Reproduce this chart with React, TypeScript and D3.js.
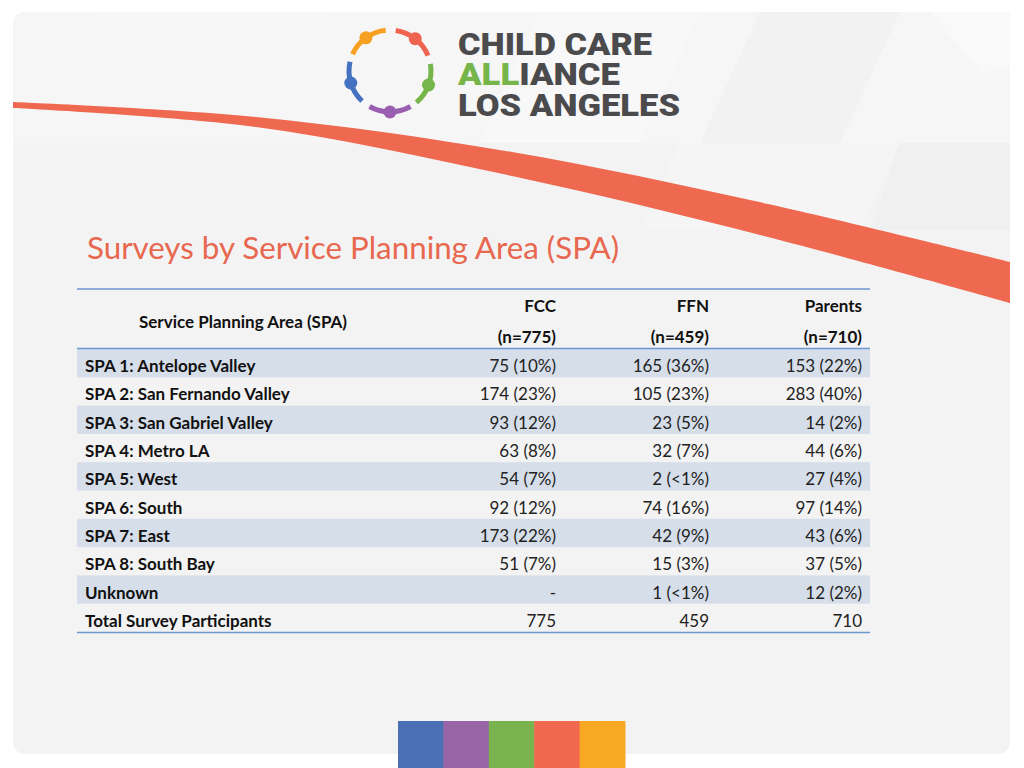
import React from "react";
import * as d3 from "d3";

// ---- Data ----
const areas = [
  "SPA 1: Antelope Valley",
  "SPA 2: San Fernando Valley",
  "SPA 3: San Gabriel Valley",
  "SPA 4: Metro LA",
  "SPA 5: West",
  "SPA 6: South",
  "SPA 7: East",
  "SPA 8: South Bay",
  "Unknown",
  "Total Survey Participants",
];
const groups = ["FCC", "FFN", "Parents"];
const groupN = ["(n=775)", "(n=459)", "(n=710)"];
const fccValues = ["75 (10%)", "174 (23%)", "93 (12%)", "63 (8%)", "54 (7%)", "92 (12%)", "173 (22%)", "51 (7%)", "-", "775"];
const ffnValues = ["165 (36%)", "105 (23%)", "23 (5%)", "32 (7%)", "2 (<1%)", "74 (16%)", "42 (9%)", "15 (3%)", "1 (<1%)", "459"];
const parentsValues = ["153 (22%)", "283 (40%)", "14 (2%)", "44 (6%)", "27 (4%)", "97 (14%)", "43 (6%)", "37 (5%)", "12 (2%)", "710"];
const title = "Surveys by Service Planning Area (SPA)";
const rowHeader = "Service Planning Area (SPA)";
const logoLines = ["CHILD CARE", "ALLIANCE", "LOS ANGELES"];
const stripeColors = ["#4a6fb2", "#9963a8", "#78b350", "#f0684f", "#f8a823"];
const logoColors = ["#f6a024", "#ee6450", "#76b54a", "#9a5fb0", "#4472c0"];

const columns = [fccValues, ffnValues, parentsValues];

// swoosh edges (decoration)
const swooshTop: [number, number][] = [[13, 102], [256, 117], [512, 152], [768, 204], [1010, 262]];
const swooshBottom: [number, number][] = [[1010, 303], [768, 237], [512, 176], [256, 127], [13, 108]];

export default function App() {
  const W = 1024, H = 768;
  const y = d3.scaleBand<string>().domain(areas).range([349, 632]);
  const x = d3.scaleBand<string>().domain(groups).range([403, 862]);
  const colRight = (g: string) => (x(g) as number) + x.bandwidth();

  const line = d3.line().curve(d3.curveCatmullRom);
  const swooshPath =
    (line(swooshTop) as string) + "L" + (line(swooshBottom) as string).slice(1) + "Z";

  const stripeX = d3.scaleBand<string>().domain(stripeColors).range([398, 625]);

  // logo
  const cx = 390, cy = 71, R = 41;
  const headAngles = [-36, 38, 110, 180, 253];
  const rad = (a: number) => (a * Math.PI) / 180;
  const arcGen = d3.arc();

  return (
    <svg width={W} height={H} style={{ display: "block", position: "absolute", left: 0, top: 0 }}>
      <rect x={0} y={0} width={W} height={H} fill="#ffffff" />
      <rect x={13} y={12} width={997} height={742} rx={12} fill="#f3f3f3" />
      {/* header light band with faint geometric shapes */}
      <path d="M25 12 H998 Q1010 12 1010 24 V143 H13 V24 Q13 12 25 12 Z" fill="#f6f6f6" />
      <polygon points="540,12 700,12 640,143 480,143" fill="#f8f8f8" />
      <polygon points="760,12 900,12 840,143 700,143" fill="#f2f2f2" />
      <polygon points="930,12 1010,12 1010,70 980,72" fill="#f9f9f9" />
      <polygon points="100,12 330,12 300,75 60,75" fill="#f7f7f7" />
      <polygon points="680,143 900,143 860,230 640,230" fill="#f5f5f5" />
      <polygon points="900,143 1010,143 1010,230 870,230" fill="#f0f0f0" />

      {/* swoosh */}
      <path d={swooshPath} fill="#ef6950" />

      {/* logo ring */}
      <g>
        {headAngles.map((a, i) => {
          const d = arcGen({
            innerRadius: R - 2.5,
            outerRadius: R + 2.5,
            startAngle: rad(a - 30),
            endAngle: rad(a + 30),
          } as any) as string;
          const hx = cx + R * Math.sin(rad(a));
          const hy = cy - R * Math.cos(rad(a));
          return (
            <g key={i} fill={logoColors[i]}>
              <path d={d} transform={`translate(${cx},${cy})`} />
              <circle cx={hx} cy={hy} r={6.5} />
            </g>
          );
        })}
      </g>
      <g fontFamily="Roboto, Lato, 'DejaVu Sans', sans-serif" fontWeight={900} fontSize={32} fill="#4b4b4d">
        <text x={458} y={55} textLength={194} lengthAdjust="spacingAndGlyphs">{logoLines[0]}</text>
        <text x={458} y={85} textLength={162} lengthAdjust="spacingAndGlyphs">
          <tspan fill="#76b54a">{logoLines[1].slice(0, 3)}</tspan>
          <tspan>{logoLines[1].slice(3)}</tspan>
        </text>
        <text x={458} y={116} textLength={222} lengthAdjust="spacingAndGlyphs">{logoLines[2]}</text>
      </g>

      {/* title */}
      <text x={87} y={259} fontFamily="Lato, 'Open Sans', sans-serif" fontSize={30} fill="#e8674f"
        textLength={532} lengthAdjust="spacingAndGlyphs">{title}</text>

      {/* table */}
      <g fontFamily="Lato, 'Open Sans', sans-serif" fontSize={17} fill="#111">
        {areas.map((a, i) =>
          i % 2 === 0 ? (
            <rect key={a} x={77} y={y(a)} width={793} height={y.bandwidth()} fill="#d6dee9" />
          ) : null
        )}
        <line x1={77} x2={870} y1={289} y2={289} stroke="#6e98d0" strokeWidth={1.5} />
        <line x1={77} x2={870} y1={348.5} y2={348.5} stroke="#6e98d0" strokeWidth={1.5} />
        <line x1={77} x2={870} y1={632.5} y2={632.5} stroke="#6e98d0" strokeWidth={1.5} />

        <text x={243} y={328} textAnchor="middle" fontWeight={700}>{rowHeader}</text>
        {groups.map((g, i) => (
          <g key={g} fontWeight={700} textAnchor="end">
            <text x={colRight(g)} y={312}>{g}</text>
            <text x={colRight(g)} y={343}>{groupN[i]}</text>
          </g>
        ))}
        {areas.map((a, i) => {
          const cyR = (y(a) as number) + y.bandwidth() / 2 + 9;
          return (
            <g key={a}>
              <text x={85} y={cyR} fontWeight={700}>{a}</text>
              {groups.map((g, j) => (
                <text key={g} x={colRight(g)} y={cyR} textAnchor="end" fill="#222">
                  {columns[j][i]}
                </text>
              ))}
            </g>
          );
        })}
      </g>

      {/* bottom color stripes */}
      {stripeColors.map((c) => (
        <rect key={c} x={stripeX(c)} y={721} width={stripeX.bandwidth() + 0.5} height={H - 721} fill={c} />
      ))}
    </svg>
  );
}
